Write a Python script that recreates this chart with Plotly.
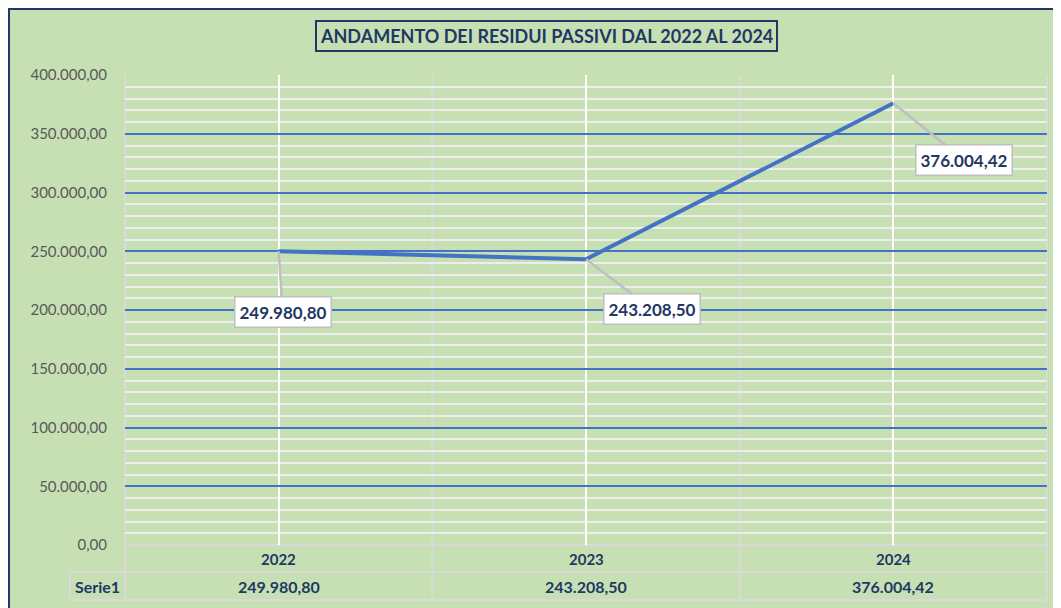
import plotly.graph_objects as go

categories = ["2022", "2023", "2024"]
values = [249980.80, 243208.50, 376004.42]
series_name = "Serie1"
title_text = "ANDAMENTO DEI RESIDUI PASSIVI DAL 2022 AL 2024"

GREEN = "#C6E0B4"
NAVY = "#1F3864"
BLUE = "#4472C4"
GREY = "#D9D9D9"
FONT = "Lato"

OFF = 8  # page body margin
W, H = 1061, 608
L, T = 125 - OFF, 75 - OFF
pw, ph = 922, 470
R = W - L - pw
B = H - T - ph

def px_x(px):  # page pixel -> paper x
    return (px - OFF - L) / pw

def px_y(py):  # page pixel -> paper y
    return (T + ph - (py - OFF)) / ph

def fmt(v):
    s = f"{v:,.2f}"
    return s.replace(",", "X").replace(".", ",").replace("X", ".")

xs = list(range(len(categories)))
n = len(categories)

fig = go.Figure()
fig.add_trace(go.Scatter(x=xs, y=values, mode="lines",
                         line=dict(color=BLUE, width=4), name=series_name,
                         showlegend=False, hoverinfo="skip"))

shapes = []
# navy border of chart area
shapes.append(dict(type="rect", xref="paper", yref="paper", layer="below",
                   x0=(1 - L) / pw, x1=(W + 20 - L) / pw,
                   y0=-(B + 20) / ph, y1=(T + ph - 1) / ph,
                   fillcolor=GREEN, line=dict(color=NAVY, width=2)))
# category boundaries through plot and table
for i in range(n + 1):
    shapes.append(dict(type="line", xref="paper", yref="paper",
                       x0=i / n, x1=i / n, y0=px_y(600), y1=1,
                       line=dict(color=GREY, width=2), layer="below"))
# table lines
for ty in (545, 572, 600):
    x0 = px_x(70) if ty != 545 else 0
    shapes.append(dict(type="line", xref="paper", yref="paper",
                       x0=x0, x1=1, y0=px_y(ty), y1=px_y(ty),
                       line=dict(color=GREY, width=2), layer="below"))
shapes.append(dict(type="line", xref="paper", yref="paper",
                   x0=px_x(70), x1=px_x(70), y0=px_y(572), y1=px_y(600),
                   line=dict(color=GREY, width=2), layer="below"))

annotations = []
annotations.append(dict(text=f"<b>{title_text}</b>", xref="paper", yref="paper",
                        x=px_x(546), y=px_y(36), xanchor="center", yanchor="middle",
                        showarrow=False,
                        font=dict(family=FONT, size=18, color=NAVY),
                        bordercolor=NAVY, borderwidth=2, borderpad=3,
                        bgcolor=GREEN))
offsets = [(4, 61), (66, 50), (71, 57)]
for x, v, (ax, ay) in zip(xs, values, offsets):
    annotations.append(dict(x=x, y=v, xref="x", yref="y", text=f"<b>{fmt(v)}</b>",
                            showarrow=True, ax=ax, ay=ay, arrowhead=0,
                            arrowcolor="#BFBFBF", arrowwidth=2.5, standoff=0,
                            bgcolor="white", bordercolor="#BFBFBF", borderwidth=1.5,
                            borderpad=4, font=dict(family=FONT, size=17, color=NAVY)))
for x, c, v in zip(xs, categories, values):
    annotations.append(dict(x=x, y=px_y(559), xref="x", yref="paper", text=f"<b>{c}</b>",
                            xanchor="center", yanchor="middle",
                            showarrow=False, font=dict(family=FONT, size=15, color=NAVY)))
    annotations.append(dict(x=x, y=px_y(586), xref="x", yref="paper", text=f"<b>{fmt(v)}</b>",
                            xanchor="center", yanchor="middle",
                            showarrow=False, font=dict(family=FONT, size=16, color=NAVY)))
annotations.append(dict(x=px_x(97), y=px_y(586), xref="paper", yref="paper",
                        xanchor="center", yanchor="middle",
                        text=f"<b>{series_name}</b>", showarrow=False,
                        font=dict(family=FONT, size=16, color=NAVY)))

fig.update_layout(
    width=W, height=H, margin=dict(l=L, r=R, t=T, b=B),
    paper_bgcolor=GREEN, plot_bgcolor="rgba(0,0,0,0)",
    separators=",.",
    shapes=shapes, annotations=annotations,
    xaxis=dict(range=[-0.5, n - 0.5], tickvals=xs, showticklabels=False,
               showgrid=True, gridcolor="white", gridwidth=2, zeroline=False,
               showline=False, fixedrange=True),
    yaxis=dict(range=[0, 400000], dtick=50000, tickformat=",.2f",
               showgrid=True, gridcolor=BLUE, gridwidth=1.5, zeroline=False,
               tickfont=dict(family=FONT, size=15, color="#595959"),
               ticklabelstandoff=17,
               minor=dict(dtick=10000, showgrid=True, gridcolor="#EDEDED", gridwidth=2)),
    showlegend=False,
)

fig.write_html("out.html")
